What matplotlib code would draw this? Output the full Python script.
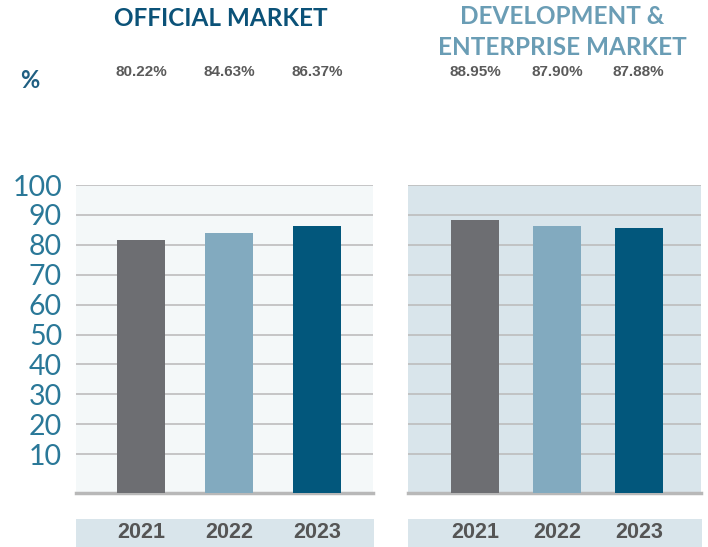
import matplotlib
matplotlib.use("Agg")
import matplotlib.pyplot as plt
from matplotlib.patches import Rectangle
import matplotlib.transforms as mtransforms

# ---- data ----
years = ["2021", "2022", "2023"]
official_bars = [81.6, 84.0, 86.3]
official_labels = ["80.22%", "84.63%", "86.37%"]
dev_bars = [88.3, 86.3, 85.6]
dev_labels = ["88.95%", "87.90%", "87.88%"]
yticks = [10, 20, 30, 40, 50, 60, 70, 80, 90, 100]
title_official = "OFFICIAL MARKET"
title_dev = "DEVELOPMENT &\nENTERPRISE MARKET"

bar_colors = ["#6D6E72", "#82AABF", "#02577C"]
W, H = 708, 547
fig = plt.figure(figsize=(W / 100, H / 100), dpi=100)

ymin = -3

def fx(px):
    return px / W

def fy(py):
    return 1 - py / H

panels = [
    dict(x0=76, x1=373, bg="#F4F8F9", vals=official_bars, labels=official_labels,
         xlim=(-0.74, 2.64), width=0.545, title=title_official, tcolor="#0B5278"),
    dict(x0=408, x1=701, bg="#D9E5EB", vals=dev_bars, labels=dev_labels,
         xlim=(-0.82, 2.76), width=0.585, title=title_dev, tcolor="#6A9DB5"),
]

top_px, bot_px = 185, 493
for i, p in enumerate(panels):
    # year strip
    fig.patches.append(Rectangle((fx(p["x0"]), 0), fx(p["x1"] + 1 - p["x0"]), 28 / H,
                                 transform=fig.transFigure, facecolor="#D9E5EB",
                                 edgecolor="none", zorder=-1))
    ax = fig.add_axes([fx(p["x0"]), fy(bot_px), fx(p["x1"] - p["x0"]), (bot_px - top_px) / H])
    ax.set_facecolor(p["bg"])
    x = list(range(len(years)))
    ax.bar(x, [v - ymin for v in p["vals"]], bottom=ymin, width=p["width"],
           color=bar_colors, zorder=3)
    ax.set_xlim(*p["xlim"])
    ax.set_ylim(ymin, 100)
    ax.set_yticks(yticks)
    ax.yaxis.grid(True, color="#BDBDBD", linewidth=1.2, zorder=1)
    ax.set_axisbelow(True)
    ax.set_xticks([])
    for s in ["top", "left", "right"]:
        ax.spines[s].set_visible(False)
    ax.spines["bottom"].set_color("#B8B8B8")
    ax.spines["bottom"].set_linewidth(2.5)
    ax.tick_params(axis="y", length=0, pad=10)
    if i == 0:
        ax.set_yticklabels([str(t) for t in yticks], fontsize=20.5, color="#2A7898",
                           family=["Lato", "DejaVu Sans"], fontweight="normal")
    else:
        ax.set_yticklabels([])

    trans = mtransforms.blended_transform_factory(ax.transData, fig.transFigure)
    # percent labels
    for xi, lab in zip(x, p["labels"]):
        ax.text(xi, fy(72), lab, transform=trans, ha="center", va="center",
                fontsize=11, fontweight="bold", color="#5A5A5A",
                family=["Liberation Sans Narrow", "Liberation Sans", "DejaVu Sans"])
    for xi, yr in zip(x, years):
        ax.text(xi, fy(532), yr, transform=trans, ha="center", va="center",
                fontsize=15.5, fontweight="bold", color="#555555",
                family=["Liberation Sans", "DejaVu Sans"], zorder=5)
    # title
    if i == 0:
        fig.text(fx(221), fy(18), p["title"], ha="center", va="center", fontsize=17.5,
                 fontweight="bold", color=p["tcolor"], family=["Lato", "DejaVu Sans"])
    else:
        fig.text(fx(562), fy(32), p["title"], ha="center", va="center", fontsize=17.5,
                 fontweight="bold", color=p["tcolor"], family=["Lato", "DejaVu Sans"],
                 linespacing=1.42)

fig.text(fx(30), fy(80), "%", ha="center", va="center", fontsize=17, fontweight="bold",
         color="#1F5F82", family=["Lato", "DejaVu Sans"])

fig.savefig("out.png", dpi=100, facecolor="white")
